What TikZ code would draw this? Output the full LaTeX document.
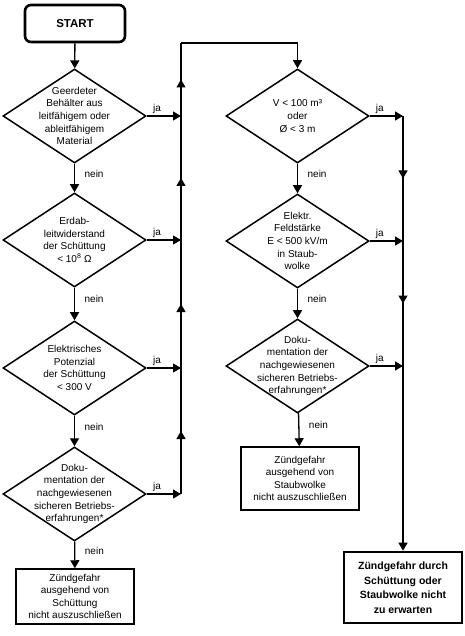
\documentclass[tikz,border=0pt]{standalone}
\usepackage{fontspec}
\setmainfont{Liberation Sans}
\usetikzlibrary{shapes.geometric,arrows.meta,decorations.markings}

\tikzset{
  dia/.style={diamond, draw, line width=1.5pt, minimum width=143pt, minimum height=94pt, inner sep=0pt},
  txt/.style={align=center, inner sep=0pt, font=\fontsize{10}{12.7}\selectfont},
  endbox/.style={rectangle, draw, line width=1.5pt, minimum width=118pt, align=center, inner sep=0pt, font=\fontsize{10}{12.5}\selectfont},
  startbox/.style={rectangle, rounded corners=6pt, draw, line width=2.6pt, minimum width=100pt, minimum height=37pt, font=\fontsize{11.5}{13}\selectfont\bfseries},
  finalbox/.style={rectangle, draw, line width=2.6pt, minimum width=118pt, minimum height=71pt, align=center, font=\fontsize{10.5}{14.5}\selectfont\bfseries},
  conn/.style={line width=1.3pt},
  flow/.style={conn, -{Triangle[length=8pt,width=9pt]}},
  midarrow/.style={postaction={decorate}, decoration={markings, mark=at position 0.5 with {\arrow{Triangle[length=8pt,width=9pt]}}}},
  lbl/.style={font=\fontsize{10}{12}\selectfont, inner sep=1.5pt}
}

\begin{document}
\begin{tikzpicture}[x=1pt, y=-1pt]
  \useasboundingbox (0,0) rectangle (464,636);

  % Left column
  \node[startbox] (start) at (75,23.5) {START};
  \node[dia] (d1) at (74.5,116) {};
  \node[txt] (d1t) at (d1) {Geerdeter\\Behälter aus\\leitfähigem oder\\ableitfähigem\\Material};
  \node[dia] (d2) at (74.5,240) {};
  \node[txt] (d2t) at (d2) {Erdab-\\leitwiderstand\\der Schüttung\\< 10\textsuperscript{8} Ω};
  \node[dia] (d3) at (74.5,368) {};
  \node[txt] (d3t) at (d3) {Elektrisches\\Potenzial\\der Schüttung\\< 300 V};
  \node[dia] (d4) at (74.5,494) {};
  \node[txt] (d4t) at (d4) {Doku-\\mentation der\\nachgewiesenen\\sicheren Betriebs-\\erfahrungen*};
  \node[endbox, minimum height=55pt] (boxl) at (75,596.5) {Zündgefahr\\ausgehend von\\Schüttung\\nicht auszuschließen};

  % Right column
  \node[dia] (r1) at (297.5,116) {};
  \node[txt] (r1t) at (r1) {V < 100 m³\\oder\\Ø < 3 m};
  \node[dia] (r2) at (297.5,241) {};
  \node[txt] (r2t) at (r2) {Elektr.\\Feldstärke\\E < 500 kV/m\\in Staub-\\wolke};
  \node[dia] (r3) at (297.5,366) {};
  \node[txt] (r3t) at (r3) {Doku-\\mentation der\\nachgewiesenen\\sicheren Betriebs-\\erfahrungen*};
  \node[endbox, minimum height=63pt] (boxr) at (300,478.5) {Zündgefahr\\ausgehend von\\Staubwolke\\nicht auszuschließen};
  \node[finalbox] (final) at (403,587.5) {Zündgefahr durch\\Schüttung oder\\Staubwolke nicht\\zu erwarten};

  % Collecting lines
  \coordinate (lt) at (181,43);
  \coordinate (j1) at (d1.east -| lt);
  \coordinate (j2) at (d2.east -| lt);
  \coordinate (j3) at (d3.east -| lt);
  \coordinate (j4) at (d4.east -| lt);
  \coordinate (k1) at (r1.east -| final.north);
  \coordinate (k2) at (r2.east -| final.north);
  \coordinate (k3) at (r3.east -| final.north);

  % nein arrows
  \draw[flow] (start) -- (d1);
  \draw[flow] (d1) -- node[lbl, right=8pt, pos=0.35] {nein} (d2);
  \draw[flow] (d2) -- node[lbl, right=8pt, pos=0.35] {nein} (d3);
  \draw[flow] (d3) -- node[lbl, right=8pt, pos=0.35] {nein} (d4);
  \draw[flow] (d4) -- node[lbl, right=8pt, pos=0.35] {nein} (boxl);
  \draw[flow] (r1) -- node[lbl, right=8pt, pos=0.35] {nein} (r2);
  \draw[flow] (r2) -- node[lbl, right=8pt, pos=0.35] {nein} (r3);
  \draw[flow] (r3) -- node[lbl, right=8pt, pos=0.35] {nein} (boxr);

  % ja arrows
  \foreach \d/\j in {d1/j1, d2/j2, d3/j3, d4/j4, r1/k1, r2/k2, r3/k3}
    \draw[flow] (\d.east) -- node[lbl, above, pos=0.3] {ja} (\j);

  % up line on the left, over to the right column
  \draw[conn, midarrow] (j4) -- (j3);
  \draw[conn, midarrow] (j3) -- (j2);
  \draw[conn, midarrow] (j2) -- (j1);
  \draw[conn, midarrow] (j1) -- (lt);
  \draw[flow] (lt) -- (lt -| r1.north) -- (r1.north);

  % down line on the right
  \draw[conn, midarrow] (k1) -- (k2);
  \draw[conn, midarrow] (k2) -- (k3);
  \draw[flow] (k3) -- (final.north);
\end{tikzpicture}
\end{document}
